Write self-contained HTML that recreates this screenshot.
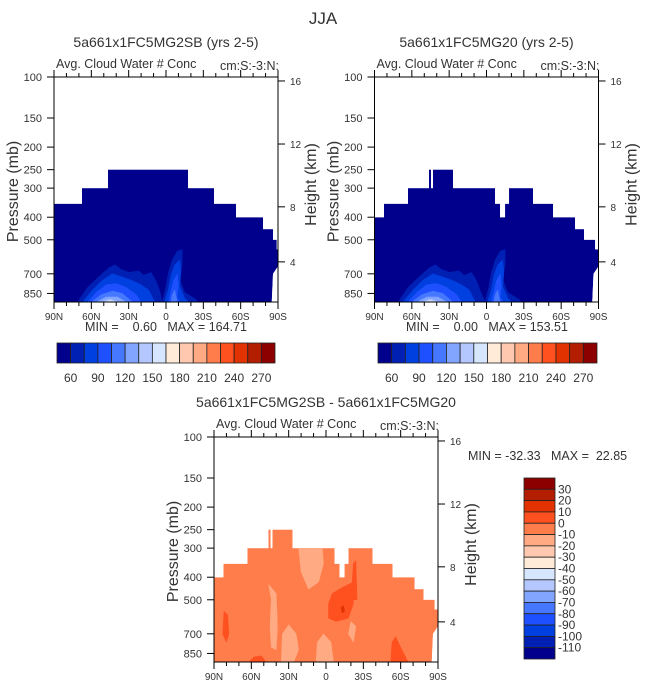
<!DOCTYPE html>
<html><head><meta charset="utf-8"><style>
body{margin:0;background:#fff;}
svg{display:block;font-family:"Liberation Sans",sans-serif;}
</style></head><body>
<svg id="fig" width="647" height="685" viewBox="0 0 647 685" xmlns="http://www.w3.org/2000/svg">
<text x="323" y="24" font-size="17" fill="#333" text-anchor="middle">JJA</text>
</svg>
<script>
const latTickLabels=["90N","60N","30N","0","30S","60S","90S"];
const latTicks=[90,60,30,0,-30,-60,-90];
const pTicks=[100,150,200,250,300,400,500,700,850];
const hTickLabels=["16","12","8","4"];
const hTickP=[104,194,361,622];
const palette=["#00008c","#0020b4","#0040e0","#1e50ff","#4678ff","#82a5ff","#b4c8ff","#d7e6ff","#ffebd7","#ffc8af","#ffaa82","#ff7d4b","#ff5020","#e13200","#b41e00","#8c0000"];
const topLevelLabels=["60","90","120","150","180","210","240","270"];
const diffLevelLabels=["30","20","10","0","-10","-20","-30","-40","-50","-60","-70","-80","-90","-100","-110"];
const maskLatL=[90,67.5,46.6,-17.7,-38.6,-56.3,-78,-86,-89];
const maskTopL=[350,300,250,300,350,400,450,500,550];
const maskLatR=[90,82.4,63.1,46.2,44.6,43,26.9,-6.9,-10.9,-14.9,-18.1,-37.4,-53.5,-71.2,-78.4,-87.3];
const maskTopR=[400,350,300,250,300,250,300,350,400,350,300,350,400,450,500,550];
const blobsTop=[
 {lev:1,pts:[[71,925],[63,800],[54,720],[46,660],[41,640],[36,670],[30,690],[22,680],[18,710],[12,690],[8,750],[5,830],[3,925]]},
 {lev:1,pts:[[3,925],[0,790],[-2,690],[-5,610],[-9,560],[-13,550],[-13,640],[-11,740],[-15,840],[-24,900],[-26,925]]},
 {lev:2,pts:[[67,925],[59,820],[51,745],[43,700],[36,720],[28,745],[20,780],[14,820],[9,925]]},
 {lev:2,pts:[[1,925],[-2,810],[-4,710],[-7,640],[-11,610],[-12,690],[-11,790],[-15,890],[-18,925]]},
 {lev:3,pts:[[63,925],[56,840],[48,780],[40,770],[32,800],[24,860],[20,925]]},
 {lev:3,pts:[[-2,925],[-4,830],[-6,750],[-9,700],[-10,790],[-9,880],[-11,925]]},
 {lev:4,pts:[[60,925],[52,860],[43,830],[35,850],[27,925]]},
 {lev:4,pts:[[-4,925],[-5,860],[-7,820],[-9,925]]},
 {lev:5,pts:[[56,925],[48,880],[39,880],[32,925]]},
 {lev:6,pts:[[52,925],[45,900],[38,925]]},
 {lev:7,pts:[[49,925],[45,912],[41,925]]}
];
const blobsDiff=[
 {lev:10,pts:[[46,430],[44,500],[45,650],[44,800],[40,820],[39,650],[40,470]]},
 {lev:10,pts:[[36,925],[35,700],[30,640],[24,700],[22,820],[26,925]]},
 {lev:10,pts:[[22,300],[20,380],[14,450],[6,420],[2,350],[3,300]]},
 {lev:10,pts:[[8,925],[7,760],[2,700],[-4,760],[-6,925]]},
 {lev:10,pts:[[-18,700],[-20,620],[-24,650],[-22,760]]},
 {lev:12,pts:[[82,560],[79,580],[78,700],[80,760],[83,700]]},
 {lev:12,pts:[[-2,520],[-5,470],[-14,440],[-22,420],[-22,520],[-18,600],[-8,620],[-2,600]]},
 {lev:12,pts:[[-52,925],[-53,760],[-56,720],[-60,800],[-66,925]]},
 {lev:12,pts:[[62,925],[58,880],[52,870],[48,925]]},
 {lev:12,pts:[[-20,500],[-22,350],[-24,340],[-25,500]]},
 {lev:13,pts:[[-12,540],[-14,530],[-15,560],[-13,570]]}
];
const PB=925;
const svg=document.getElementById('fig');
const NS="http://www.w3.org/2000/svg";
function el(t,a,p){const e=document.createElementNS(NS,t);for(const k in a)e.setAttribute(k,a[k]);(p||svg).appendChild(e);return e;}
function txt(s,x,y,size,anchor,p,extra){const e=el('text',Object.assign({x:x,y:y,'font-size':size,fill:'#333','text-anchor':anchor||'start'},extra||{}),p);e.textContent=s;return e;}
function panel(ox,oy,title,maskLat,maskTop,blobs,baseCol,name){
 const W=224,H=225;
 const g=el('g',{});
 
 
 const X=lat=>ox+(90-lat)/180*W;
 const Y=p=>oy+Math.log10(p/100)/Math.log10(PB/100)*H;
 const clipId=name+'-clip';
 const defs=el('defs',{},g);
 const cp=el('clipPath',{id:clipId},defs);
 let d='M'+X(90)+','+Y(PB);
 for(let i=0;i<maskLat.length;i++){
  const l0=maskLat[i], l1=i+1<maskLat.length?maskLat[i+1]:-90;
  d+=' L'+X(l0)+','+Y(maskTop[i])+' L'+X(l1)+','+Y(maskTop[i]);
 }
 d+=' L'+X(-90)+','+Y(650)+' L'+X(-86)+','+Y(700)+' L'+X(-85)+','+Y(PB)+' Z';
 el('path',{d:d},cp);
 const fg=el('g',{'clip-path':'url(#'+clipId+')'},g);
 const base=el('path',{d:d,fill:baseCol},fg);
 
 
 blobs.forEach(b=>{
  const pd='M'+b.pts.map(q=>X(q[0])+','+Y(q[1])).join(' L')+' Z';
  const e=el('path',{d:pd,fill:palette[b.lev],stroke:palette[b.lev],'stroke-width':0.5},fg);
  
  
 });
 el('rect',{x:ox,y:oy,width:W,height:H,fill:'none',stroke:'#000','stroke-width':1},g);
 for(let l=90;l>=-90;l-=10){
  const major=(l%30===0);
  el('line',{x1:X(l),x2:X(l),y1:oy+H,y2:oy+H+(major?7:4),stroke:'#000'},g);
  el('line',{x1:X(l),x2:X(l),y1:oy,y2:oy-(major?7:4),stroke:'#000'},g);
 }
 latTicks.forEach((l,i)=>{const t=txt(latTickLabels[i],X(l),oy+H+18,10,'middle',g);});
 pTicks.forEach(p=>{
  el('line',{x1:ox-7,x2:ox,y1:Y(p),y2:Y(p),stroke:'#000'},g);
  const t=txt(String(p),ox-12,Y(p)+4,11,'end',g);
  
 });
 hTickP.forEach((p,i)=>{
  el('line',{x1:ox+W,x2:ox+W+7,y1:Y(p),y2:Y(p),stroke:'#000'},g);
  const t=txt(hTickLabels[i],ox+W+12,Y(p)+4,10,'start',g);
  
 });
 const cy=oy+H/2;
 const yt=txt('Pressure (mb)',0,0,16,'middle',g,{transform:'translate('+(ox-36)+','+(cy+2)+') rotate(-90)'});
 
 const ht=txt('Height (km)',0,0,16,'middle',g,{transform:'translate('+(ox+W+38)+','+(cy-5)+') rotate(-90)'});
 
 const tt=txt(title,ox+W/2,oy-30,14,'middle',g);
 
 const st=txt('Avg. Cloud Water # Conc',ox+2,oy-9,12.5,'start',g);
 
 const ut=txt('cm:S:-3:N:',ox+W+1,oy-7,12.5,'end',g);
 
}
function hbar(x0,y0,w,h,name){
 const g=el('g',{});
 
 
 const bw=w/palette.length;
 palette.forEach((c,i)=>{const r=el('rect',{x:x0+i*bw,y:y0,width:bw,height:h,fill:c,stroke:'#222','stroke-width':0.8},g);});
 topLevelLabels.forEach((s,i)=>{const t=txt(s,x0+(2*i+1)*bw,y0+h+19,12,'middle',g);});
}
panel(54,77,'5a661x1FC5MG2SB (yrs 2-5)',maskLatL,maskTopL,blobsTop,palette[0],'panel-left');
panel(374.5,77,'5a661x1FC5MG20 (yrs 2-5)',maskLatR,maskTopR,blobsTop.map(b=>({lev:b.lev,pts:b.pts.map(q=>[q[0]<5?q[0]-2:q[0],q[1]])})),palette[0],'panel-right');
panel(214,437,'5a661x1FC5MG2SB - 5a661x1FC5MG20',maskLatR,maskTopR,blobsDiff,palette[11],'panel-diff');
hbar(57,343,218,20,'colorbar-left');
hbar(378,343,219,20,'colorbar-right');
let t;
t=txt('MIN =    0.60   MAX = 164.71',166,331,12.5,'middle');t.style.whiteSpace='pre';
t=txt('MIN =    0.00   MAX = 153.51',487,331,12.5,'middle');t.style.whiteSpace='pre';
t=txt('MIN = -32.33   MAX =  22.85',468,460,12.5,'start');t.style.whiteSpace='pre';
const vg=el('g',{});


const vx=524,vy=478,vw=31,vh=181,bh=vh/palette.length;
for(let i=0;i<palette.length;i++){
 const r=el('rect',{x:vx,y:vy+i*bh,width:vw,height:bh,fill:palette[palette.length-1-i],stroke:'#222','stroke-width':0.8},vg);
 
 
}
diffLevelLabels.forEach((s,i)=>{const tt=txt(s,vx+vw+3,vy+(i+1)*bh+4,12,'start',vg);});
</script>
</body></html>
